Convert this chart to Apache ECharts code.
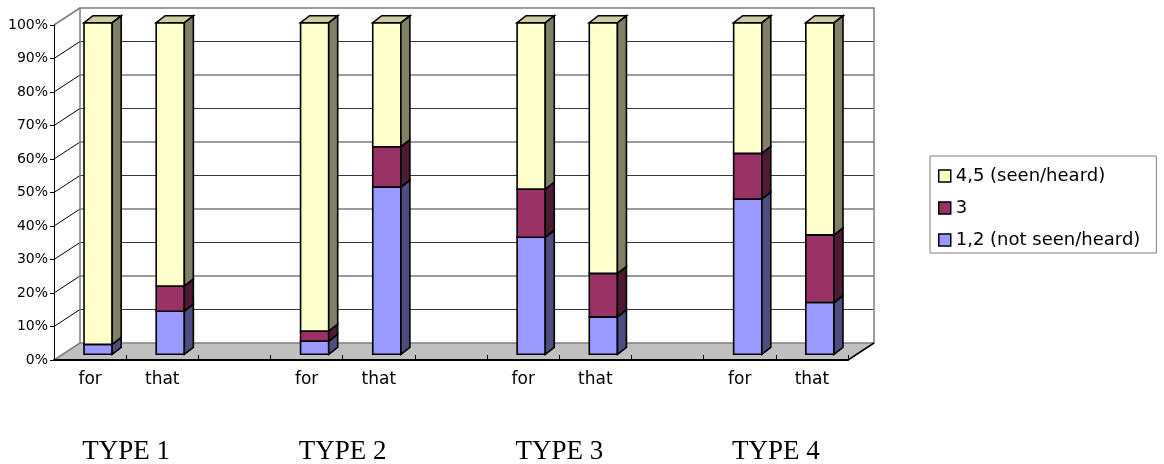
<!DOCTYPE html>
<html>
<head>
<meta charset="utf-8">
<script src="https://cdn.jsdelivr.net/npm/echarts@6/dist/echarts.min.js"></script>
<style>
  html, body { margin: 0; padding: 0; background: #fff; }
  #chart { width: 1164px; height: 464px; }
</style>
</head>
<body>
<div id="chart"></div>
<script>
// Sentence types and the two connectives tested for each
const groups = ['TYPE 1', 'TYPE 2', 'TYPE 3', 'TYPE 4'];
const connectives = ['for', 'that'];
const yTicks = [0, 10, 20, 30, 40, 50, 60, 70, 80, 90, 100];

// Response shares (%) per bar, ordered TYPE1-for, TYPE1-that, TYPE2-for, ...
const notSeen = [3, 13, 4, 50.4, 35.3, 11.3, 46.8, 15.6];   // 1,2 (not seen/heard)
const neutral = [0, 7.6, 3, 12.2, 14.5, 13.1, 13.8, 20.4];  // 3
const seen    = [97, 79.4, 93, 37.4, 50.2, 75.6, 39.4, 64]; // 4,5 (seen/heard)

const seriesNames = ['1,2 (not seen/heard)', '3', '4,5 (seen/heard)'];
const levels = [notSeen, neutral, seen];

// face colours: front, side (shaded), top (lit)
const FRONT = ['#9999FF', '#993366', '#FFFFCC'];
const SIDE  = ['#4D4D80', '#4D1A33', '#808066'];
const TOP   = ['#7A7ACC', '#7A2952', '#CCCCA3'];

const WALL_DEPTH = [26, -17];  // offset from front plane to back wall
const BAR_DEPTH = [9, -7];     // thickness of each bar
const BAR_RATIO = 0.39;

// category slots: for, that, gap, for, that, gap, ...
const categories = [];
const barSlot = [];
groups.forEach((g, gi) => {
  connectives.forEach((c) => { barSlot.push(categories.length); categories.push(c); });
  if (gi < groups.length - 1) categories.push('');
});

// stacked segments [slot, base, top]
function segments(level) {
  const out = [];
  barSlot.forEach((slot, i) => {
    let base = 0;
    for (let l = 0; l < level; l++) base += levels[l][i];
    const v = levels[level][i];
    if (v > 0) out.push([slot, base, base + v]);
  });
  return out;
}

function barRenderer(level) {
  return function (params, api) {
    const x = api.value(0);
    const p0 = api.coord([x, api.value(1)]);
    const p1 = api.coord([x, api.value(2)]);
    const w = api.size([1, 0])[0] * BAR_RATIO;
    const xl = p0[0] - w / 2, xr = p0[0] + w / 2, yb = p0[1], yt = p1[1];
    const dx = BAR_DEPTH[0], dy = BAR_DEPTH[1];
    const edge = { stroke: '#000', lineWidth: 1.6, lineJoin: 'miter' };
    const children = [
      { type: 'polygon', shape: { points: [[xl, yb], [xr, yb], [xr, yt], [xl, yt]] },
        style: Object.assign({ fill: FRONT[level] }, edge) },
      { type: 'polygon', shape: { points: [[xr, yb], [xr, yt], [xr + dx, yt + dy], [xr + dx, yb + dy]] },
        style: Object.assign({ fill: SIDE[level] }, edge) }
    ];
    if (level === levels.length - 1) {
      children.push({ type: 'polygon',
        shape: { points: [[xl, yt], [xr, yt], [xr + dx, yt + dy], [xl + dx, yt + dy]] },
        style: Object.assign({ fill: TOP[level] }, edge) });
    }
    return { type: 'group', children };
  };
}

// back wall, side wall, floor and gridlines
function frameRenderer(params, api) {
  const cs = params.coordSys;
  const L = cs.x, R = cs.x + cs.width;
  const y0 = api.coord([0, 0])[1];
  const y100 = api.coord([0, 100])[1];
  const dx = WALL_DEPTH[0], dy = WALL_DEPTH[1];
  const children = [];
  children.push({ type: 'polygon',
    shape: { points: [[L, y0], [R, y0], [R + dx, y0 + dy], [L + dx, y0 + dy]] },
    style: { fill: '#C0C0C0' } });
  yTicks.forEach((t) => {
    if (t === 0 || t === 100) return;
    const y = api.coord([0, t])[1];
    children.push({ type: 'line', shape: { x1: L + dx, y1: y + dy, x2: R + dx, y2: y + dy },
      style: { stroke: '#3a3a3a', lineWidth: 1 } });
    children.push({ type: 'line', shape: { x1: L, y1: y, x2: L + dx, y2: y + dy },
      style: { stroke: '#000', lineWidth: 1 } });
  });
  children.push({ type: 'polygon',
    shape: { points: [[L + dx, y100 + dy], [R + dx, y100 + dy], [R + dx, y0 + dy], [L + dx, y0 + dy]] },
    style: { fill: 'none', stroke: '#808080', lineWidth: 1.5 } });
  children.push({ type: 'line', shape: { x1: L, y1: y100, x2: L + dx, y2: y100 + dy },
    style: { stroke: '#808080', lineWidth: 1.5 } });
  children.push({ type: 'line', shape: { x1: L, y1: y0, x2: L + dx, y2: y0 + dy },
    style: { stroke: '#808080', lineWidth: 1.5 } });
  children.push({ type: 'line', shape: { x1: R, y1: y0, x2: R + dx, y2: y0 + dy },
    style: { stroke: '#000', lineWidth: 1.5 } });
  return { type: 'group', children };
}

// group captions under each for/that pair
function groupLabelRenderer(params, api) {
  const gi = api.value(0);
  const a = api.coord([3 * gi, 0]);
  const b = api.coord([3 * gi + 1, 0]);
  return { type: 'text', style: {
    text: groups[gi], x: (a[0] + b[0]) / 2, y: a[1] + 92,
    align: 'center', verticalAlign: 'middle',
    font: '27px "Liberation Serif"', fill: '#000' } };
}

const option = {
  animation: false,
  backgroundColor: '#fff',
  grid: [
    { left: 54, top: 25, width: 794, height: 335 },
    { left: 62, top: 22.7, width: 794, height: 331.6 }
  ],
  xAxis: [
    { type: 'category', gridIndex: 0, data: categories, boundaryGap: true, z: 5,
      axisLine: { show: true, lineStyle: { color: '#000', width: 2 } },
      axisTick: { show: true, inside: true, length: 5, lineStyle: { color: '#000', width: 1 } },
      axisLabel: { interval: 0, margin: 11, color: '#000', fontFamily: 'DejaVu Sans', fontSize: 17, lineHeight: 17 },
      splitLine: { show: false } },
    { type: 'category', gridIndex: 1, data: categories, boundaryGap: true, show: false }
  ],
  yAxis: [
    { type: 'value', gridIndex: 0, min: 0, max: 100, interval: 10, z: 5,
      axisLine: { show: true, lineStyle: { color: '#000', width: 1 } },
      axisTick: { show: true, inside: false, length: 4, lineStyle: { color: '#000', width: 1 } },
      axisLabel: { formatter: '{value}%', margin: 6, color: '#000', fontFamily: 'DejaVu Sans', fontSize: 14 },
      splitLine: { show: false } },
    { type: 'value', gridIndex: 1, min: 0, max: 100, interval: 10, show: false, splitLine: { show: false } }
  ],
  legend: {
    data: ['4,5 (seen/heard)', '3', '1,2 (not seen/heard)'],
    orient: 'vertical', left: 930, top: 156,
    icon: 'rect', itemWidth: 12, itemHeight: 12, itemGap: 14,
    padding: [11, 16, 4, 8],
    borderColor: '#808080', borderWidth: 1, borderRadius: 0,
    backgroundColor: '#fff',
    selectedMode: false,
    itemStyle: { borderColor: '#000', borderWidth: 1.5 },
    textStyle: { fontFamily: 'DejaVu Sans', fontSize: 18, lineHeight: 18, color: '#000' }
  },
  series: [
    { type: 'custom', name: 'frame', xAxisIndex: 0, yAxisIndex: 0, z: 1, silent: true,
      data: [[0, 0]], renderItem: frameRenderer },
    { type: 'custom', name: 'groups', xAxisIndex: 0, yAxisIndex: 0, z: 1, silent: true,
      data: groups.map((g, i) => [i]), renderItem: groupLabelRenderer }
  ].concat(levels.map((arr, level) => ({
    type: 'custom', name: seriesNames[level], xAxisIndex: 1, yAxisIndex: 1, z: 10,
    itemStyle: { color: FRONT[level] },
    encode: { x: 0, y: [1, 2] },
    data: segments(level),
    renderItem: barRenderer(level)
  })))
};

echarts.init(document.getElementById('chart'), null, { renderer: 'canvas' }).setOption(option);
</script>
</body>
</html>
